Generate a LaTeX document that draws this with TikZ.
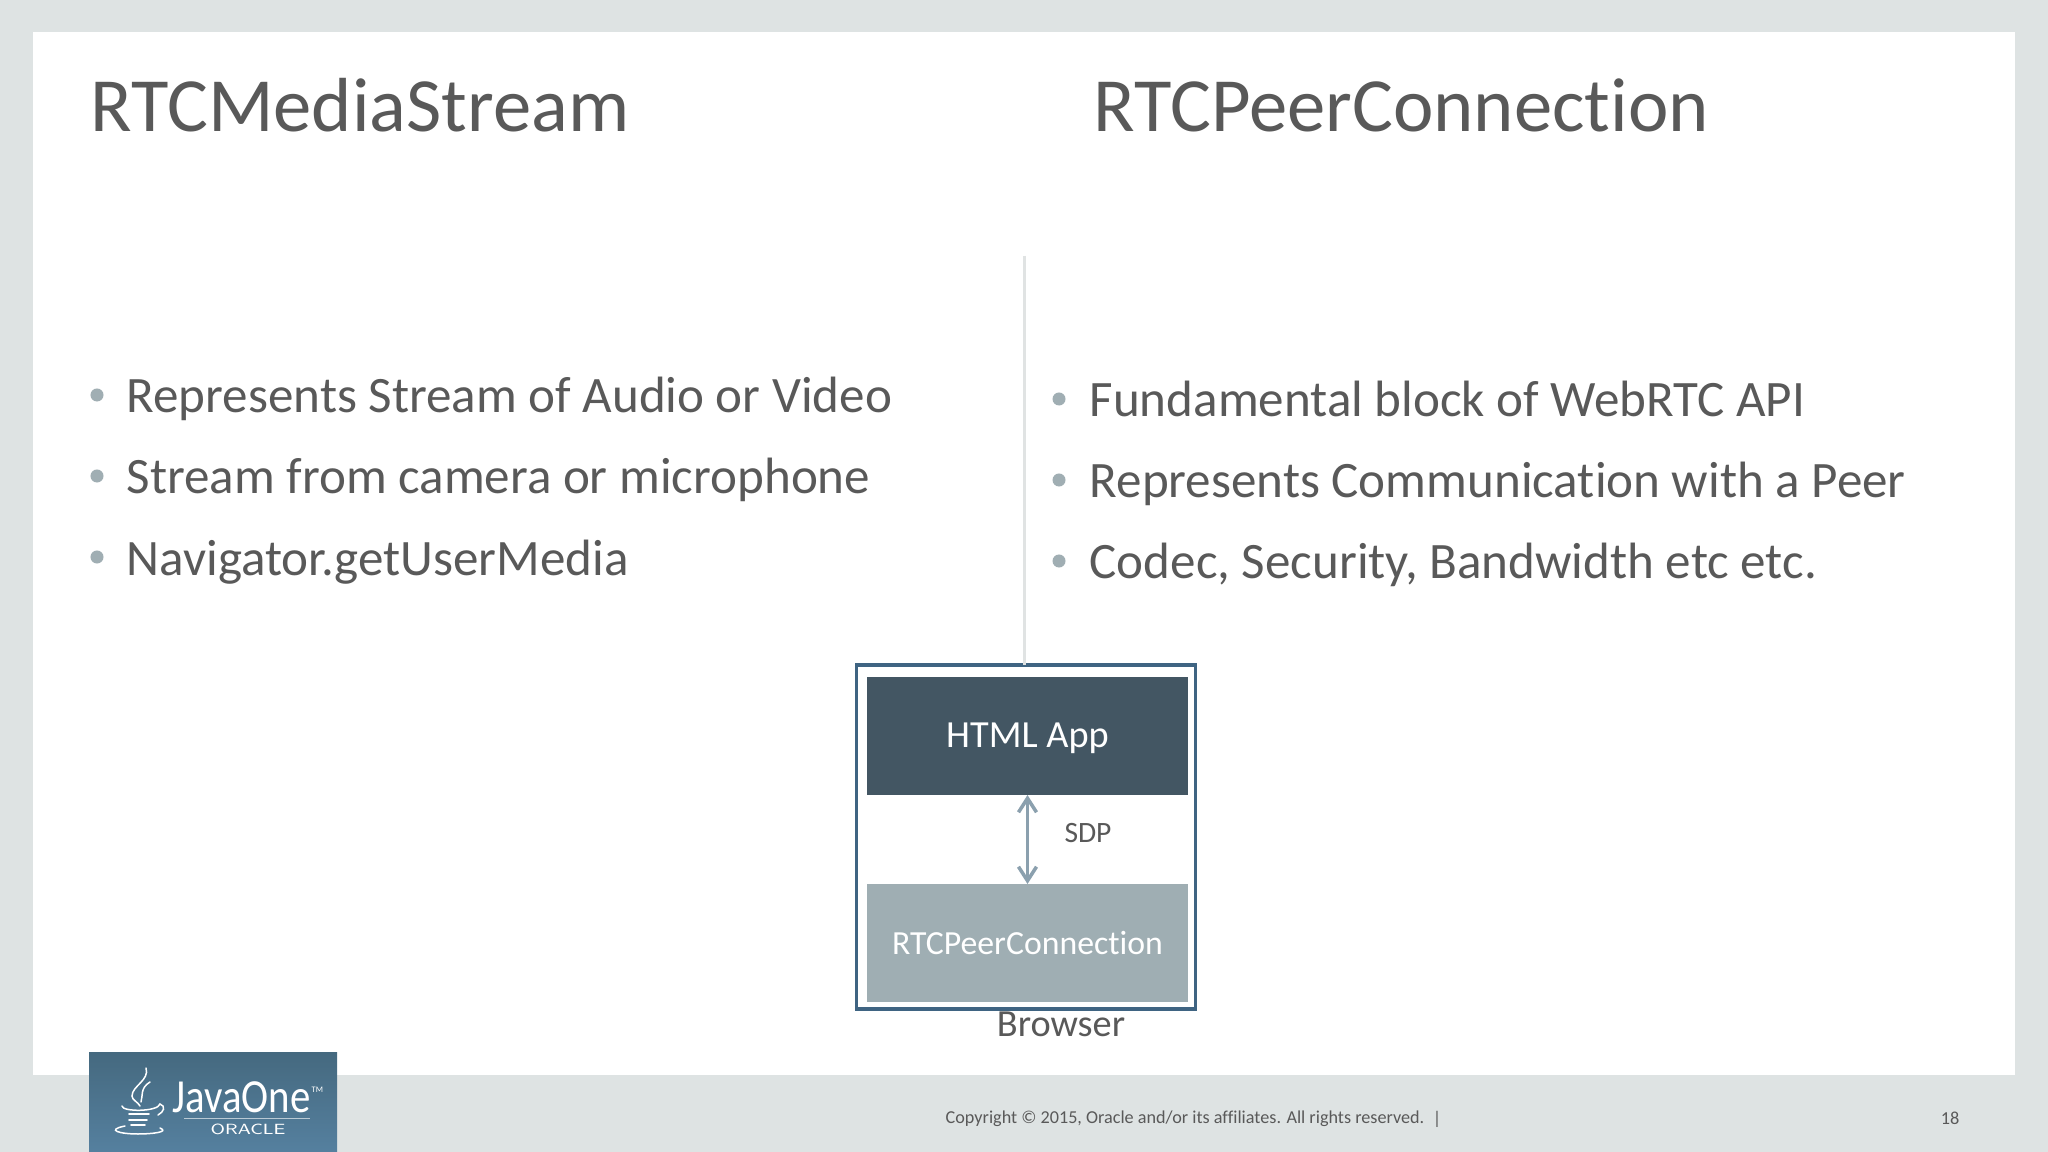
\documentclass[tikz,border=0pt]{standalone}
\usepackage{fontspec}
\setmainfont[Ligatures=NoCommon]{Carlito}
\usepackage{tikz}
\usetikzlibrary{arrows.meta,positioning}
\definecolor{slidegrey}{RGB}{222,227,227}
\definecolor{bodytext}{RGB}{89,89,89}
\definecolor{bulletgrey}{RGB}{160,174,179}
\definecolor{rulegrey}{RGB}{224,227,227}
\definecolor{boxblue}{RGB}{63,100,130}
\definecolor{appdark}{RGB}{67,86,99}
\definecolor{peergrey}{RGB}{159,174,179}
\definecolor{arrowgrey}{RGB}{139,160,174}
\definecolor{logotop}{RGB}{69,105,127}
\definecolor{logobottom}{RGB}{85,128,159}
\tikzset{
    headline/.style={anchor=base west,inner sep=0pt,text=bodytext,font=\fontsize{21.8pt}{26pt}\selectfont},
    bulletline/.style={anchor=base west,inner sep=0pt,text=bodytext,font=\fontsize{14.52pt}{17pt}\selectfont},
    bulletdot/.style={circle,fill=bulletgrey,inner sep=0pt,minimum size=0.13cm},
    appbox/.style={rectangle,outer sep=0pt,minimum width=3.21cm,minimum height=1.18cm,text=white},
    smalltext/.style={inner sep=0pt,text=bodytext,font=\fontsize{7.2pt}{9pt}\selectfont},
    cupline/.style={white,line width=0.015cm,line cap=round},
}
\begin{document}
\begin{tikzpicture}[x=0.01cm,y=-0.01cm]
    % Slide
    \fill[slidegrey] (0,0) rectangle (2048,1152);
    \fill[white] (33,32) rectangle (2015,1075);

    % Titles
    \node[headline] (mediatitle) at (90,132) {RTCMediaStream};
    \node[headline] (peertitle) at (1093,132) {RTCPeerConnection};

    % Left bullets
    \node[bulletdot] (dotl1) at (97,395) {};
    \node[bulletdot] (dotl2) at (97,476) {};
    \node[bulletdot] (dotl3) at (97,557) {};
    \node[bulletline] (textl1) at (126,413) {Represents Stream of Audio or Video};
    \node[bulletline] (textl2) at (126,494) {Stream from camera or microphone};
    \node[bulletline] (textl3) at (126,575) {Navigator.getUserMedia};

    % Right bullets
    \node[bulletdot] (dotr1) at (1059,399) {};
    \node[bulletdot] (dotr2) at (1059,480) {};
    \node[bulletdot] (dotr3) at (1059,561) {};
    \node[bulletline] (textr1) at (1089,417) {Fundamental block of WebRTC API};
    \node[bulletline] (textr2) at (1089,498) {Represents Communication with a Peer};
    \node[bulletline] (textr3) at (1089,579) {Codec, Security, Bandwidth etc etc.};

    % Browser box
    \node[draw=boxblue,line width=0.035cm,rectangle,outer sep=0pt,minimum width=3.39cm,minimum height=3.44cm] (browser) at (1026,837) {};
    \node[appbox,fill=appdark,text height=0.3cm,font=\fontsize{10.9pt}{13pt}\selectfont] (htmlapp) at (1027.5,736) {HTML App};
    \node[appbox,fill=peergrey,font=\fontsize{9.6pt}{12pt}\selectfont] (peerbox) at (1027.5,943) {RTCPeerConnection};
    \node[smalltext,font=\fontsize{8.4pt}{10pt}\selectfont] (sdp) at (1088,833) {SDP};
    \node[smalltext,font=\fontsize{10.9pt}{13pt}\selectfont] (browserlabel) at (1061,1024) {Browser};

    % Connections
    \coordinate (ruletop) at (1024,256);
    \draw[rulegrey,line width=0.03cm] (ruletop) -- (ruletop |- browser.north);
    \draw[{Straight Barb[length=0.14cm,width=0.18cm]}-{Straight Barb[length=0.14cm,width=0.18cm]},arrowgrey,line width=0.035cm] (htmlapp) -- (peerbox);

    % Footer
    \node[smalltext,font=\fontsize{5.17pt}{7pt}\selectfont,anchor=west] (copyright) at (945,1119) {Copyright © 2015, Oracle and/or its affiliates. All rights reserved.};
    \node[smalltext,font=\fontsize{5.2pt}{7pt}\selectfont] (pagebar) at (1437,1119) {|};
    \node[smalltext,font=\fontsize{5.2pt}{7pt}\selectfont] (pagenum) at (1950,1118) {18};

    % Logo
    \shade[top color=logotop,bottom color=logobottom] (89,1052) rectangle (337,1152);
    \node[anchor=base west,inner sep=0pt,text=white,xscale=0.86,transform shape,font=\fontsize{13.5pt}{16pt}\selectfont] (javaone) at (172,1112) {JavaOne};
    \node[anchor=base west,inner sep=0pt,text=white,font=\fontsize{2.4pt}{3pt}\selectfont] (trademark) at (311,1092) {TM};
    \node[inner sep=0pt,text=white,xscale=1.25,transform shape,font=\sffamily\fontsize{4.2pt}{5pt}\selectfont] (oracle) at (248,1129) {ORACLE};
    \draw[white,opacity=0.6,line width=0.01cm] (184,1118) -- (310,1118);
    \draw[cupline] (146,1068) .. controls (150,1080) and (132,1086) .. (132,1096) .. controls (132,1100) and (138,1102) .. (140,1106);
    \draw[cupline] (150,1082) .. controls (140,1088) and (143,1096) .. (141,1102);
    \draw[cupline] (122,1106) .. controls (122,1112) and (158,1112) .. (160,1104) .. controls (166,1106) and (164,1112) .. (158,1115);
    \draw[cupline,line width=0.018cm] (129,1114) -- (149,1114);
    \draw[cupline,line width=0.018cm] (129,1120) -- (147,1120);
    \draw[cupline,line width=0.018cm] (131,1125) -- (145,1125);
    \draw[cupline] (125,1126) .. controls (105,1130) and (120,1134) .. (138,1134) .. controls (152,1134) and (170,1132) .. (160,1128);
\end{tikzpicture}
\end{document}
